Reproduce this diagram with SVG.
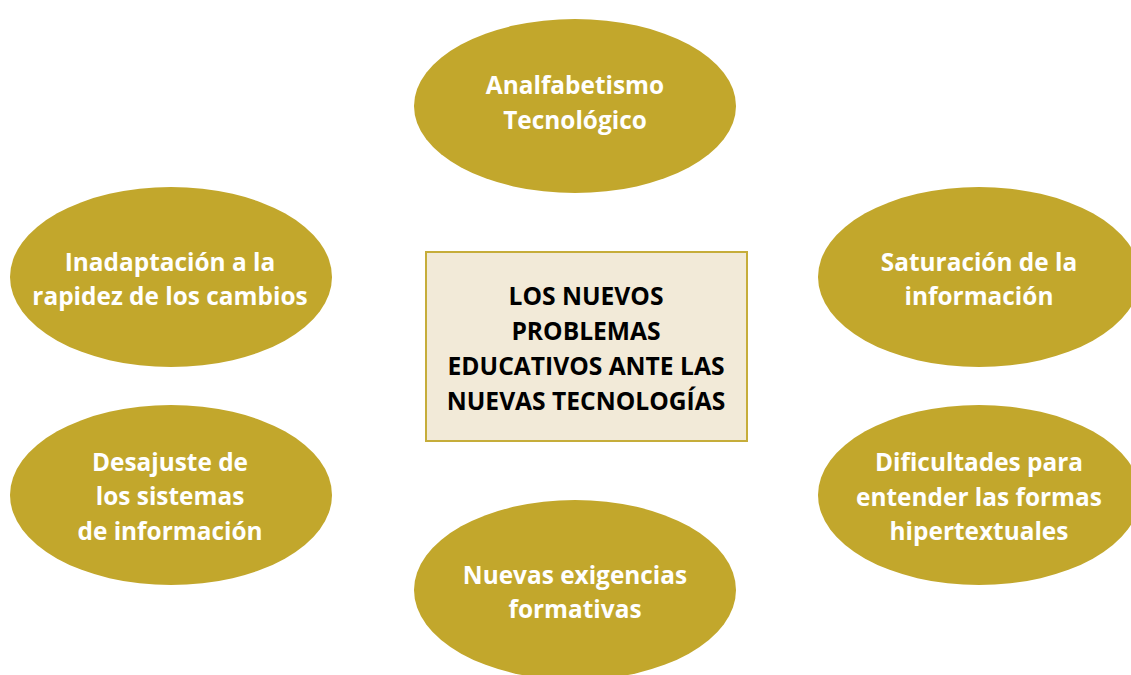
<svg xmlns="http://www.w3.org/2000/svg" width="1131" height="675" viewBox="0 0 1131 675">
<style>
.n{fill:#C2A72C;stroke:none}
.t{font-family:"Open Sans","Liberation Sans",sans-serif;font-weight:bold;font-size:24.4px;fill:#FFFFFF;text-anchor:middle}
.c{font-family:"Open Sans","Liberation Sans",sans-serif;font-weight:bold;font-size:24.6px;fill:#000000;text-anchor:middle}
</style>
<rect width="1131" height="675" fill="#FFFFFF"/>
<g id="connectors"></g>
<g id="center">
<rect x="426" y="252" width="321" height="189" fill="#F2EAD8" stroke="#C6AD3A" stroke-width="2"/>
<text class="c" x="586" y="305">LOS NUEVOS</text>
<text class="c" x="586" y="340">PROBLEMAS</text>
<text class="c" x="586" y="375">EDUCATIVOS ANTE LAS</text>
<text class="c" x="586" y="410">NUEVAS TECNOLOGÍAS</text>
</g>
<g id="n-top">
<ellipse class="n" cx="575" cy="106" rx="161" ry="87"/>
<text class="t" x="575" y="94">Analfabetismo</text>
<text class="t" x="575" y="129">Tecnológico</text>
</g>
<g id="n-left-up">
<ellipse class="n" cx="171" cy="277" rx="161" ry="90"/>
<text class="t" x="170" y="271">Inadaptación a la</text>
<text class="t" x="170" y="305">rapidez de los cambios</text>
</g>
<g id="n-right-up">
<ellipse class="n" cx="979" cy="277" rx="161" ry="90"/>
<text class="t" x="979" y="271">Saturación de la</text>
<text class="t" x="979" y="305">información</text>
</g>
<g id="n-left-down">
<ellipse class="n" cx="171" cy="495" rx="161" ry="90"/>
<text class="t" x="170" y="471">Desajuste de</text>
<text class="t" x="170" y="505">los sistemas</text>
<text class="t" x="170" y="540">de información</text>
</g>
<g id="n-right-down">
<ellipse class="n" cx="979" cy="495" rx="161" ry="90"/>
<text class="t" x="979" y="471">Dificultades para</text>
<text class="t" x="979" y="506">entender las formas</text>
<text class="t" x="979" y="540">hipertextuales</text>
</g>
<g id="n-bottom">
<ellipse class="n" cx="575" cy="590" rx="161" ry="90"/>
<text class="t" x="575" y="584">Nuevas exigencias</text>
<text class="t" x="575" y="618">formativas</text>
</g>
</svg>
